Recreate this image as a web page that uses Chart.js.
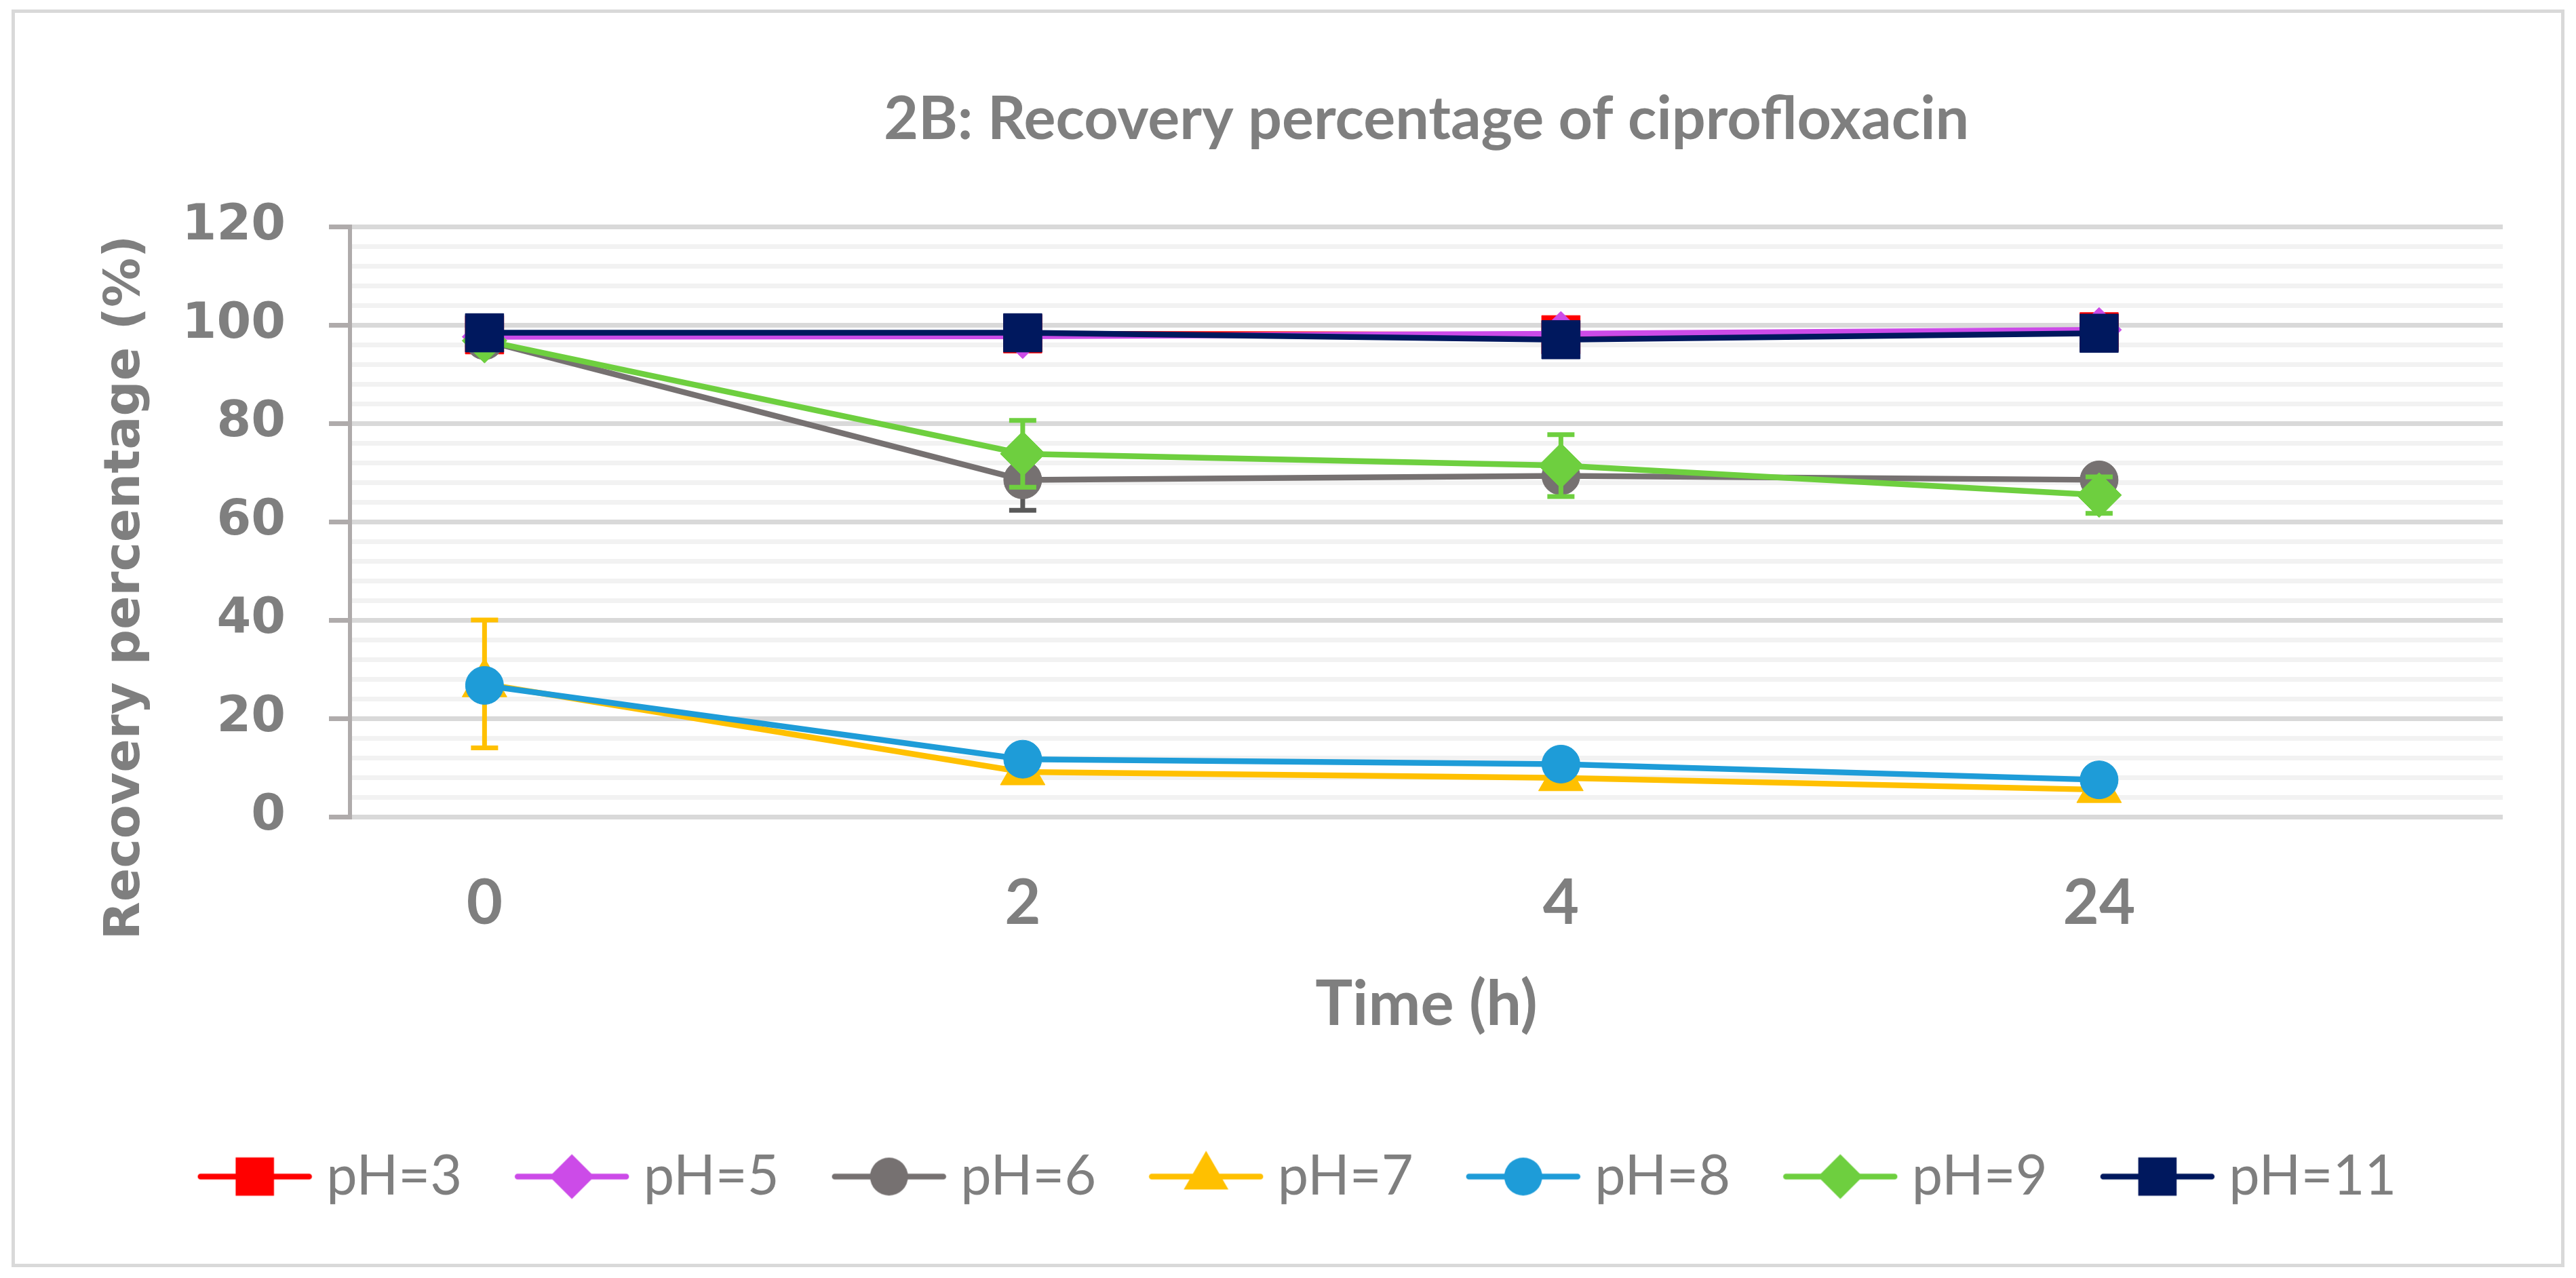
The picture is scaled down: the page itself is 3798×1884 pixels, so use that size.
<!DOCTYPE html>
<html>
<head>
<meta charset="utf-8">
<script src="https://cdn.jsdelivr.net/npm/chart.js@4.4.1/dist/chart.umd.min.js"></script>
<style>
  html, body { margin: 0; padding: 0; background: #fff; }
  canvas { display: block; }
</style>
</head>
<body>
<canvas id="chart" width="3798" height="1884"></canvas>
<script>
// 2B — recovery of ciprofloxacin at different pH
const timeLabels = ['0', '2', '4', '24'];

const seriesNames = ['pH=3', 'pH=5', 'pH=6', 'pH=7', 'pH=8', 'pH=9', 'pH=11'];

const ph3  = [98.0, 98.2, 98.0, 98.6];
const ph5  = [97.6, 97.7, 98.2, 99.0];
const ph6  = [96.8, 68.5, 69.3, 68.5];
const ph7  = [27.0, 9.1, 7.9, 5.5];
const ph8  = [26.7, 11.7, 10.7, 7.5];
const ph9  = [96.8, 73.8, 71.4, 65.4];
const ph11 = [98.4, 98.4, 97.0, 98.3];

// standard deviations (error bars)
const ph3Err  = [0.5, 0.5, 0.5, 0.5];
const ph5Err  = [0.5, 0.5, 0.5, 0.5];
const ph6Err  = [0.5, 6.2, 1.5, 0.8];
const ph7Err  = [13.0, 1.0, 1.0, 1.0];
const ph8Err  = [0.5, 0.5, 0.5, 0.5];
const ph9Err  = [0.5, 6.8, 6.3, 3.7];
const ph11Err = [0.5, 0.5, 0.5, 0.5];

const GREY = '#7F7F7F';
const PAD_LEFT = 154, PAD_RIGHT = 108;

const styles = [
  { color: '#FF0000', err: '#FF0000', shape: 'rect',     r: 40 },
  { color: '#CC4BE8', err: '#CC4BE8', shape: 'rectRot',  r: 33 },
  { color: '#767171', err: '#595959', shape: 'circle',   r: 28 },
  { color: '#FFC000', err: '#FFC000', shape: 'triangle', r: 38 },
  { color: '#1E9CD8', err: '#1E9CD8', shape: 'circle',   r: 28 },
  { color: '#6ECF3F', err: '#6ECF3F', shape: 'rectRot',  r: 33 },
  { color: '#00185E', err: '#00185E', shape: 'rect',     r: 40 }
];

const values = [ph3, ph5, ph6, ph7, ph8, ph9, ph11];
const errors = [ph3Err, ph5Err, ph6Err, ph7Err, ph8Err, ph9Err, ph11Err];

// same geometry as Chart.js point styles
function drawMarker(ctx, shape, x, y, r) {
  ctx.beginPath();
  if (shape === 'circle') {
    ctx.arc(x, y, r, 0, Math.PI * 2);
  } else if (shape === 'rect') {
    const s = r * Math.SQRT1_2;
    ctx.rect(x - s, y - s, 2 * s, 2 * s);
  } else if (shape === 'rectRot') {
    ctx.moveTo(x - r, y); ctx.lineTo(x, y - r); ctx.lineTo(x + r, y); ctx.lineTo(x, y + r);
  } else if (shape === 'triangle') {
    for (let k = 0; k < 3; k++) {
      const a = k * 2 * Math.PI / 3;
      const px = x + Math.sin(a) * r, py = y - Math.cos(a) * r;
      k === 0 ? ctx.moveTo(px, py) : ctx.lineTo(px, py);
    }
  }
  ctx.closePath();
  ctx.fill();
}

function legendIcon(st) {
  const c = document.createElement('canvas');
  c.width = 170; c.height = 90;
  const g = c.getContext('2d');
  g.strokeStyle = st.color; g.fillStyle = st.color;
  g.lineWidth = 8.5; g.lineCap = 'round';
  g.beginPath(); g.moveTo(5, 45); g.lineTo(165, 45); g.stroke();
  drawMarker(g, st.shape, 85, 45, st.r);
  return c;
}

const datasets = seriesNames.map((name, i) => ({
  label: name,
  data: values[i].map((v, j) => ({ x: j, y: v })),
  errors: errors[i],
  errColor: styles[i].err,
  borderColor: styles[i].color,
  backgroundColor: styles[i].color,
  borderWidth: 8.5,
  pointStyle: styles[i].shape,
  pointRadius: styles[i].r,
  pointBackgroundColor: styles[i].color,
  pointBorderColor: styles[i].color,
  pointBorderWidth: 1,
  tension: 0,
  clip: false,
  order: seriesNames.length - i,   // later series on top, like Excel
  icon: legendIcon(styles[i])
}));

const decoPlugin = {
  id: 'deco',
  beforeDraw(chart) {
    const ctx = chart.ctx;
    ctx.save();
    ctx.fillStyle = '#fff';
    ctx.fillRect(0, 0, chart.width, chart.height);
    ctx.strokeStyle = '#D9D9D9';
    ctx.lineWidth = 5;
    ctx.strokeRect(19.5, 16.5, chart.width - 39, chart.height - 35);
    ctx.restore();
  },
  beforeDatasetDraw(chart, args) {
    const ds = chart.data.datasets[args.index];
    const yScale = chart.scales.y;
    const ctx = chart.ctx;
    ctx.save();
    ctx.strokeStyle = ds.errColor;
    ctx.lineWidth = 7;
    args.meta.data.forEach((pt, j) => {
      const e = ds.errors[j];
      if (!e) return;
      const v = ds.data[j].y;
      const y1 = yScale.getPixelForValue(v + e);
      const y2 = yScale.getPixelForValue(v - e);
      ctx.beginPath();
      ctx.moveTo(pt.x, y1); ctx.lineTo(pt.x, y2);
      ctx.moveTo(pt.x - 20, y1); ctx.lineTo(pt.x + 20, y1);
      ctx.moveTo(pt.x - 20, y2); ctx.lineTo(pt.x + 20, y2);
      ctx.stroke();
    });
    ctx.restore();
  },
  afterDraw(chart) {
    // rotated y-axis title
    const ctx = chart.ctx;
    ctx.save();
    ctx.translate(186, 866);
    ctx.rotate(-Math.PI / 2);
    ctx.font = 'bold 73px "DejaVu Sans"';
    ctx.fillStyle = GREY;
    ctx.textAlign = 'center';
    ctx.textBaseline = 'middle';
    ctx.fillText('Recovery percentage (%)', 0, 0);
    ctx.restore();
  }
};

new Chart(document.getElementById('chart'), {
  type: 'line',
  data: { datasets },
  plugins: [decoPlugin],
  options: {
    responsive: false,
    devicePixelRatio: 1,
    animation: false,
    layout: { padding: { top: 20, bottom: 99, left: PAD_LEFT, right: PAD_RIGHT } },
    plugins: {
      tooltip: { enabled: false },
      title: {
        display: true,
        fullSize: false,
        text: '2B: Recovery percentage of ciprofloxacin',
        color: GREY,
        font: { family: 'Lato', weight: 'bold', size: 88 },
        padding: { top: 104, bottom: 104.4 }
      },
      legend: {
        position: 'bottom',
        labels: {
          usePointStyle: true,
          pointStyleWidth: 130,
          padding: 97,
          color: GREY,
          font: { family: 'Lato', size: 81 },
          sort: (a, b) => a.datasetIndex - b.datasetIndex,
          generateLabels(chart) {
            return chart.data.datasets.map((ds, i) => ({
              text: ds.label,
              pointStyle: ds.icon,
              fillStyle: ds.borderColor,
              strokeStyle: ds.borderColor,
              lineWidth: 0,
              fontColor: GREY,
              hidden: false,
              datasetIndex: i
            }));
          }
        }
      }
    },
    scales: {
      x: {
        type: 'linear',
        min: -0.25,
        max: 3.75,
        afterBuildTicks: s => { s.ticks = timeLabels.map((t, i) => ({ value: i })); },
        afterFit: s => { s.height = 393; },
        ticks: {
          autoSkip: false,
          maxRotation: 0,
          padding: 73,
          color: GREY,
          font: { family: 'Lato', weight: 'bold', size: 92 },
          callback: v => timeLabels[v] ?? ''
        },
        grid: { display: false, drawTicks: false },
        border: { display: false },
        title: {
          display: true,
          text: 'Time (h)',
          color: GREY,
          font: { family: 'Lato', weight: 'bold', size: 92 },
          padding: { top: 0, bottom: 60 }
        }
      },
      y: {
        min: 0,
        max: 120,
        afterFit: s => { s.width = 516 - PAD_LEFT; },
        ticks: {
          stepSize: 4,
          autoSkip: false,
          padding: 64,
          color: GREY,
          font: { family: 'DejaVu Sans', weight: 'bold', size: 73 },
          callback: v => (v % 20 === 0 ? v : '')
        },
        grid: {
          lineWidth: 7,
          tickLength: 31,
          tickWidth: 7,
          color: c => (c.tick && c.tick.value % 20 === 0 ? '#D9D9D9' : '#F2F2F2'),
          tickColor: c => (c.tick && c.tick.value % 20 === 0 ? '#AFABAB' : 'rgba(0,0,0,0)')
        },
        border: { display: true, color: '#AFABAB', width: 6 }
      }
    }
  }
});
</script>
</body>
</html>
